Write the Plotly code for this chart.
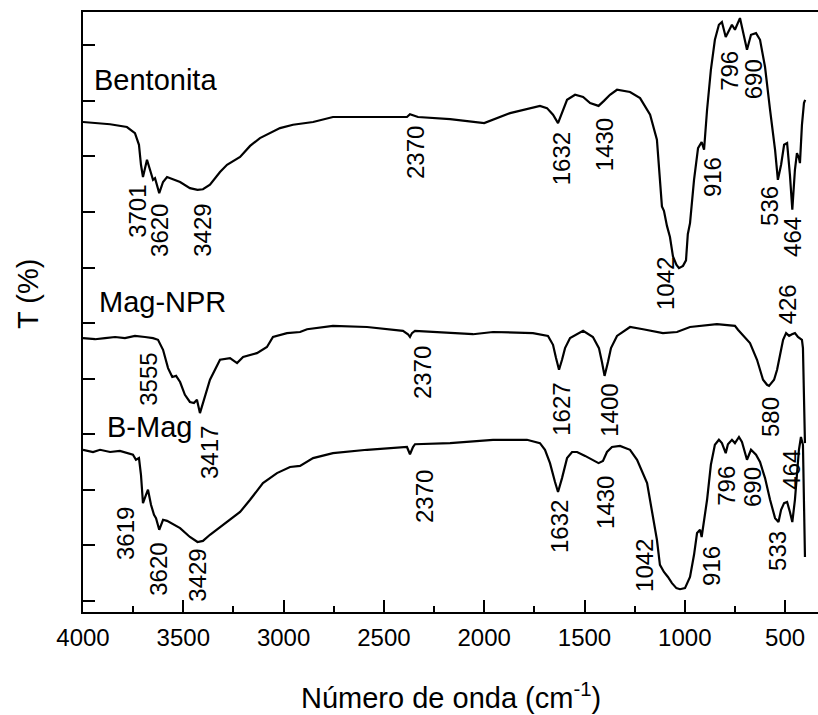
import plotly.graph_objects as go

# FTIR spectra (wavenumber in cm-1, transmittance in offset arbitrary units)
bent_wn = [4000, 3865, 3781, 3741, 3721, 3711, 3701, 3681, 3666, 3651, 3641, 3620,
           3601, 3581, 3516, 3467, 3429, 3402, 3367, 3317, 3282, 3217, 3167, 3118,
           3018, 2953, 2853, 2754, 2584, 2385, 2370, 2350, 2330, 2170, 2000, 1871,
           1757, 1722, 1687, 1657, 1632, 1607, 1587, 1547, 1507, 1472, 1430, 1403,
           1373, 1338, 1273, 1223, 1173, 1139, 1114, 1104, 1089, 1074, 1059, 1042,
           1029, 1009, 994, 985, 974, 954, 934, 916, 904, 889, 870, 850, 830, 815,
           796, 765, 750, 725, 705, 690, 670, 645, 625, 600, 575, 550, 536, 520,
           505, 490, 476, 464, 451, 441, 431, 426, 416, 406, 400]
bent_t = [88.2, 87.8, 87.3, 86.2, 84.1, 80.5, 78.3, 81.4, 79.6, 77.8, 78.1, 75.4,
          77.4, 78.3, 77.4, 76.3, 76.0, 76.1, 76.9, 79.2, 80.5, 81.9, 83.9, 85.3,
          87.1, 87.7, 88.2, 89.1, 89.1, 89.1, 89.6, 89.3, 89.1, 88.7, 88.0, 89.8,
          90.9, 91.1, 90.7, 89.5, 88.0, 90.4, 92.2, 93.1, 92.7, 91.6, 91.1, 92.0,
          93.1, 94.0, 93.6, 92.5, 89.5, 85.0, 73.0, 72.2, 69.5, 67.5, 64.0, 62.5,
          61.9, 62.3, 63.3, 68.0, 70.0, 77.8, 83.5, 84.6, 83.2, 90.4, 97.6, 103.0,
          105.7, 106.2, 103.5, 105.7, 104.8, 106.9, 103.9, 101.2, 103.9, 104.2,
          103.0, 98.1, 90.4, 83.2, 77.8, 80.5, 84.1, 84.4, 78.7, 72.4, 79.6, 82.6,
          81.7, 80.8, 87.7, 91.6, 92.2]

mag_wn = [4000, 3940, 3890, 3840, 3791, 3741, 3691, 3651, 3626, 3601, 3576, 3555,
          3536, 3516, 3492, 3467, 3447, 3432, 3417, 3397, 3367, 3317, 3267, 3232,
          3202, 3133, 3083, 3053, 2983, 2918, 2883, 2754, 2584, 2405, 2380, 2370,
          2360, 2345, 2170, 2056, 1956, 1757, 1682, 1657, 1642, 1627, 1612, 1597,
          1572, 1507, 1458, 1428, 1413, 1400, 1383, 1368, 1338, 1273, 1208, 1109,
          1039, 974, 840, 750, 735, 700, 675, 640, 610, 590, 580, 555, 540, 525,
          510, 495, 480, 466, 451, 436, 426, 416, 411, 401]
mag_t = [49.3, 49.1, 49.3, 49.5, 49.3, 49.7, 49.5, 49.3, 49.0, 47.2, 43.9, 42.3,
         42.5, 41.4, 39.1, 37.8, 37.6, 38.2, 35.8, 38.2, 41.8, 45.4, 45.7, 44.8,
         45.9, 46.6, 47.7, 49.5, 50.2, 50.4, 50.9, 51.5, 51.3, 50.6, 50.0, 49.5,
         50.2, 50.6, 50.2, 50.0, 50.4, 50.2, 49.7, 48.1, 45.7, 43.6, 45.4, 47.5,
         49.3, 50.6, 49.5, 47.5, 45.0, 42.5, 45.0, 47.5, 49.7, 51.3, 50.9, 50.2,
         50.4, 51.3, 51.8, 51.5, 50.8, 49.3, 48.4, 45.4, 41.8, 40.9, 40.7, 41.8,
         43.6, 46.3, 49.0, 50.2, 49.7, 50.0, 50.2, 49.5, 49.3, 49.0, 47.5, 30.4]

bmag_wn = [4000, 3950, 3915, 3865, 3816, 3776, 3751, 3736, 3721, 3711, 3701, 3686,
           3676, 3661, 3646, 3636, 3620, 3601, 3581, 3516, 3467, 3429, 3402, 3367,
           3282, 3217, 3167, 3103, 3033, 2968, 2918, 2853, 2754, 2584, 2385, 2370,
           2355, 2345, 2170, 1956, 1787, 1722, 1697, 1672, 1647, 1632, 1612, 1587,
           1562, 1537, 1497, 1458, 1430, 1408, 1388, 1363, 1323, 1273, 1238, 1188,
           1158, 1139, 1124, 1104, 1084, 1064, 1042, 1024, 999, 974, 954, 939, 924,
           916, 889, 870, 850, 830, 815, 796, 785, 765, 750, 730, 715, 690, 670,
           645, 625, 600, 575, 550, 533, 520, 505, 490, 476, 464, 451, 441, 431,
           421, 411, 401]
bmag_t = [29.2, 28.8, 29.2, 28.8, 29.0, 28.6, 28.3, 27.4, 27.7, 24.7, 19.6, 21.1,
          22.0, 19.3, 17.5, 16.9, 14.8, 16.6, 16.4, 15.1, 13.5, 12.6, 12.8, 13.9,
          16.2, 18.0, 20.2, 23.2, 25.0, 26.1, 26.3, 27.7, 28.6, 29.2, 29.7, 28.4,
          29.7, 30.2, 30.4, 31.0, 31.0, 30.4, 29.2, 26.8, 23.4, 21.6, 24.1, 27.7,
          28.8, 28.8, 28.1, 27.4, 26.8, 27.2, 28.8, 29.7, 29.9, 29.2, 27.4, 23.2,
          17.1, 13.0, 8.5, 7.2, 6.3, 5.2, 4.3, 4.1, 4.3, 6.3, 10.3, 14.2, 14.8,
          13.5, 20.2, 26.5, 30.1, 31.0, 30.4, 28.6, 30.2, 31.0, 30.4, 31.5, 30.6,
          27.4, 29.2, 28.3, 27.0, 24.1, 20.2, 16.9, 16.2, 18.4, 19.6, 19.8, 18.0,
          16.2, 20.2, 24.7, 29.2, 31.5, 30.1, 9.9]

# Band labels: text, label position (wavenumber, T)
bent_labels = ["3701", "3620", "3429", "2370", "1632", "1430", "1042", "916",
               "796", "690", "536", "464"]
bent_lab_wn = [3726, 3616, 3402, 2345, 1617, 1403, 1099, 864, 775, 660, 575, 466]
bent_lab_t = [72.2, 68.6, 68.8, 82.8, 81.5, 84.2, 59.2, 78.3, 97.4, 95.9, 73.1, 67.5]

mag_labels = ["3555", "3417", "2370", "1627", "1400", "580", "426"]
mag_lab_wn = [3671, 3372, 2310, 1612, 1373, 575, 490]
mag_lab_t = [41.8, 28.8, 43.0, 36.4, 36.4, 35.1, 55.4]

bmag_labels = ["3619", "3620", "3429", "2370", "1632", "1430", "1042", "916",
               "796", "690", "533", "464"]
bmag_lab_wn = [3791, 3621, 3427, 2300, 1627, 1398, 1198, 864, 790, 665, 535, 466]
bmag_lab_t = [14.2, 7.6, 6.7, 20.7, 15.3, 19.8, 8.3, 8.3, 22.7, 22.5, 11.0, 25.6]

sample_names = ["Bentonita", "Mag-NPR", "B-Mag"]
name_wn = [3955, 3930, 3890]
name_t = [95.7, 55.8, 33.3]

x_ticks = [4000, 3500, 3000, 2500, 2000, 1500, 1000, 500]
y_ticks = [2, 12, 22, 32, 42, 52, 62, 72, 82, 92, 102]

FONT = "Arial, Liberation Sans, sans-serif"

fig = go.Figure()
for wn, t in [(bent_wn, bent_t), (mag_wn, mag_t), (bmag_wn, bmag_t)]:
    fig.add_trace(go.Scatter(x=wn, y=t, mode="lines",
                             line=dict(color="black", width=2.2),
                             showlegend=False, hoverinfo="skip"))

annotations = []
for labels, xs, ys in [(bent_labels, bent_lab_wn, bent_lab_t),
                       (mag_labels, mag_lab_wn, mag_lab_t),
                       (bmag_labels, bmag_lab_wn, bmag_lab_t)]:
    for txt, x, y in zip(labels, xs, ys):
        annotations.append(dict(x=x, y=y, xref="x", yref="y", text=txt,
                                showarrow=False, textangle=-90,
                                xanchor="center", yanchor="middle",
                                font=dict(family=FONT, size=24, color="black")))

for txt, x, y in zip(sample_names, name_wn, name_t):
    annotations.append(dict(x=x, y=y, xref="x", yref="y", text=txt,
                            showarrow=False, xanchor="left", yanchor="middle",
                            font=dict(family=FONT, size=29, color="black")))

annotations.append(dict(x=0.5, y=-0.14, xref="paper", yref="paper",
                        text="Número de onda (cm<sup>-1</sup>)", showarrow=False,
                        xanchor="center", yanchor="middle",
                        font=dict(family=FONT, size=29, color="black")))
annotations.append(dict(x=-0.075, y=0.53, xref="paper", yref="paper",
                        text="T (%)", showarrow=False, textangle=-90,
                        xanchor="center", yanchor="middle",
                        font=dict(family=FONT, size=29, color="black")))

fig.update_layout(
    width=818, height=715,
    margin=dict(l=83, r=0, t=12, b=103),
    paper_bgcolor="white", plot_bgcolor="white",
    annotations=annotations,
    xaxis=dict(range=[4000, 336], tickvals=x_ticks, ticks="inside",
               ticklen=12, tickwidth=2, tickcolor="black",
               ticklabelstandoff=3,
               showline=True, linewidth=2, linecolor="black", mirror=True,
               showgrid=False, zeroline=False,
               tickfont=dict(family=FONT, size=24, color="black"),
               minor=dict(dtick=250, tick0=0, ticks="inside", ticklen=6,
                          tickwidth=2, tickcolor="black", showgrid=False)),
    yaxis=dict(range=[0, 108], tickvals=y_ticks, ticks="inside",
               ticklen=12, tickwidth=2, tickcolor="black",
               showticklabels=False,
               showline=True, linewidth=2, linecolor="black", mirror=False,
               showgrid=False, zeroline=False),
)

fig.write_html("out.html")
